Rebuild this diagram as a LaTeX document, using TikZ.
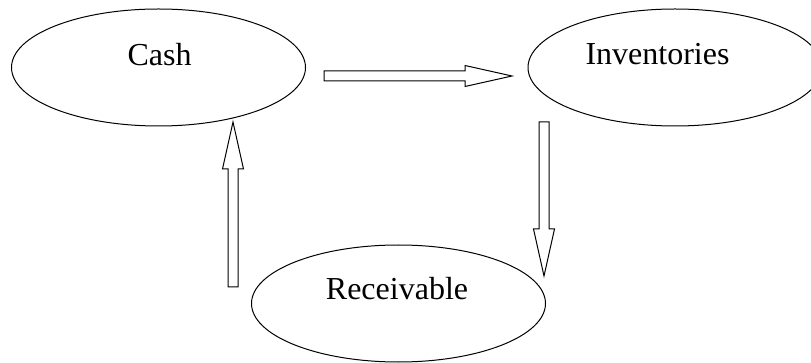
\documentclass[tikz,border=0pt]{standalone}
\usepackage{fontspec}
\setmainfont{Liberation Serif}
\usetikzlibrary{shapes.geometric}

\tikzset{
  stock/.style={draw, ellipse, line width=1pt, minimum width=294pt, minimum height=117pt, inner sep=0pt},
  stocklabel/.style={anchor=base, inner sep=0pt, font=\fontsize{32}{36}\selectfont},
  blockline/.style={draw, line width=1pt, line join=miter}
}
% полый стрелка: начало, угол, длина
\newcommand{\blockarrow}[3]{%
  \draw[blockline, shift={#1}, rotate=#2]
    (0,-5) -- (#3-47,-5) -- (#3-47,-10.5) -- (#3,0) -- (#3-47,10.5) -- (#3-47,5) -- (0,5) -- cycle;}

\begin{document}
\begin{tikzpicture}[x=1pt, y=-1pt]
\useasboundingbox (0,0) rectangle (811,363);
\clip (0,0) rectangle (811,363);
% эллипсы
\node [stock] (cash) at (158.5,67.5) {};
\node [stock] (inv) at (675,67.5) {};
\node [stock] (recv) at (398.5,303.5) {};
% подписи
\node [stocklabel] (cashtxt) at (159.5,66) {Cash};
\node [stocklabel] (invtxt) at (657.5,65) {Inventories};
\node [stocklabel] (recvtxt) at (397,300) {Receivable};
% стрелки
\coordinate (cashout) at (324,76);
\coordinate (invout) at (544,122);
\coordinate (recvout) at (233,287);
\blockarrow{(cashout)}{0}{188}
\blockarrow{(invout)}{-90}{154}
\blockarrow{(recvout)}{90}{165}
\end{tikzpicture}
\end{document}
